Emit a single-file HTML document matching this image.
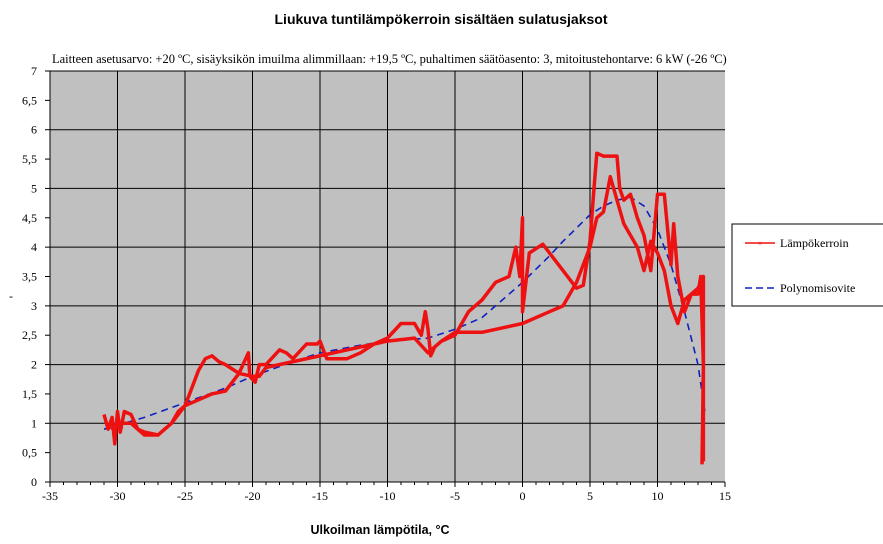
<!DOCTYPE html>
<html><head><meta charset="utf-8"><style>
body{margin:0;background:#fff;}
svg{display:block;font-family:"Liberation Serif",serif;}
</style></head><body>
<svg id="chart" width="883" height="544" xmlns="http://www.w3.org/2000/svg">
<text x="441" y="24" text-anchor="middle" font-family="Liberation Sans,sans-serif" font-weight="bold" font-size="14">Liukuva tuntilämpökerroin sisältäen sulatusjaksot</text>
<text x="52" y="63" font-size="12.5">Laitteen asetusarvo: +20 ºC, sisäyksikön imuilma alimmillaan: +19,5 ºC, puhaltimen säätöasento: 3, mitoitustehontarve: 6 kW (-26 ºC)</text>
<rect x="50" y="71" width="675" height="411" fill="#c0c0c0"/>
<g id="grid"></g>
<g id="axes"></g>
<path id="poly" fill="none" stroke="#1020c0" stroke-width="1.6" stroke-dasharray="7,5"/>
<path id="red" fill="none" stroke="#ee1111" stroke-width="3.5" stroke-linejoin="round"/>
<text x="380" y="534" text-anchor="middle" font-family="Liberation Sans,sans-serif" font-weight="bold" font-size="12.5">Ulkoilman lämpötila, °C</text>
<text x="9" y="300" font-size="12">-</text>
<g>
<rect x="732" y="224" width="160" height="82" fill="#fff" stroke="#000" stroke-width="1"/>
<line x1="745" y1="243" x2="775" y2="243" stroke="#ee1111" stroke-width="1.5"/>
<text x="760" y="246" font-size="8" fill="#ee1111" text-anchor="middle">×</text>
<text x="780" y="247" font-size="12">Lämpökerroin</text>
<line x1="745" y1="288" x2="775" y2="288" stroke="#1020c0" stroke-width="1.6" stroke-dasharray="7,4"/>
<text x="780" y="292" font-size="12">Polynomisovite</text>
</g>
</svg>
<script>
const xTicks=[-35,-30,-25,-20,-15,-10,-5,0,5,10,15];
const yTicks=[0,0.5,1,1.5,2,2.5,3,3.5,4,4.5,5,5.5,6,6.5,7];
const redX=[-31,-30.7,-30.4,-30.2,-30,-29.8,-29.5,-29,-28.5,-28,-27,-26,-25,-24.5,-24,-23.5,-23,-22.5,-22,-21,-20.3,-20.2,-19.8,-19.5,-19,-18,-17.5,-17,-16,-15.2,-15,-14.5,-13,-12,-11,-10,-9,-8,-7.5,-7.2,-7,-6.8,-6.5,-6,-5,-4,-3,-2,-1,-0.5,-0.2,0,0,0.5,1.5,3,4,4.5,5,5.3,5.5,6,7,7.2,7.5,8,8.5,9,9.5,10,10.5,11,11.2,11.5,12,12.5,13,13.2,13.4,13.3];
const redY=[1.15,0.9,1.1,0.65,1.2,0.85,1.2,1.15,0.9,0.85,0.8,1.0,1.3,1.6,1.9,2.1,2.15,2.05,2.0,1.85,2.2,1.8,1.7,2.0,2.0,2.25,2.2,2.1,2.35,2.35,2.4,2.1,2.1,2.2,2.35,2.45,2.7,2.7,2.5,2.9,2.6,2.15,2.3,2.4,2.5,2.9,3.1,3.4,3.5,4.0,3.5,4.5,2.9,3.9,4.05,3.6,3.3,3.35,4.1,5.0,5.6,5.55,5.55,5.0,4.8,4.9,4.5,4.2,3.6,4.9,4.9,3.7,4.4,3.5,2.9,3.2,3.2,3.5,2.0,0.3];
const red2X=[-30.5,-30,-29,-28,-27,-26,-25.5,-25,-24,-23,-22,-21,-20,-19.5,-19,-10,-8,-7,-6,-5,-3,-1,0,2,3,4,5,5.5,6,6.5,7,7.5,8,8.5,9,9.5,10,10.5,11,11.5,12,12.5,13,13.4,13.4];
const red2Y=[0.9,1.0,1.0,0.8,0.8,1.0,1.2,1.3,1.4,1.5,1.55,1.85,1.8,1.8,1.95,2.4,2.45,2.2,2.4,2.55,2.55,2.65,2.7,2.9,3.0,3.4,4.0,4.5,4.6,5.2,4.8,4.4,4.2,4.0,3.6,4.1,3.9,3.6,3.0,2.7,3.1,3.2,3.3,3.5,0.35];
const polyX=[-31,-28,-25,-22,-20,-17,-15,-12,-10,-7,-5,-3,-2,0,2,3,5,6,7,8,9,10,11,12,13,13.5];
const polyY=[0.9,1.1,1.35,1.6,1.8,2.05,2.2,2.33,2.4,2.45,2.6,2.8,3.0,3.4,3.85,4.1,4.55,4.7,4.8,4.85,4.7,4.3,3.7,2.9,2.0,1.2];
const X0=50,X1=725,Y0=482,Y1=71;
const sx=v=>X0+(v+35)/50*(X1-X0);
const sy=v=>Y0-v/7*(Y0-Y1);
const NS="http://www.w3.org/2000/svg";
const grid=document.getElementById('grid'),axes=document.getElementById('axes');
function mk(tag,attrs,parent){const e=document.createElementNS(NS,tag);for(const k in attrs)e.setAttribute(k,attrs[k]);parent.appendChild(e);return e;}
yTicks.forEach(v=>{
 const y=sy(v);
 if(v>0&&v%1===0){const l=mk('line',{x1:X0,x2:X1,y1:y,y2:y,stroke:'#000','stroke-width':1},grid);
 
 }
 mk('line',{x1:X0-5,x2:X0,y1:y,y2:y,stroke:'#000'},axes);
 const t=mk('text',{x:X0-13,y:y+4,'text-anchor':'end','font-size':12},axes);
 t.textContent=String(v).replace('.',',');
 
 
});
xTicks.forEach(v=>{
 const x=sx(v);
 if(v>-35&&v<15){const l=mk('line',{x1:x,x2:x,y1:Y1,y2:Y0,stroke:'#000','stroke-width':1},grid);
 
 }
 mk('line',{x1:x,x2:x,y1:Y0,y2:Y0+5,stroke:'#000'},axes);
 const t=mk('text',{x:x,y:Y0+18,'text-anchor':'middle','font-size':12},axes);
 t.textContent=v;
 
 
});
for(let v=-35;v<=15;v+=1){mk('line',{x1:sx(v),x2:sx(v),y1:Y0,y2:Y0+3,stroke:'#000'},axes);}
mk('line',{x1:X0,x2:X1,y1:Y0,y2:Y0,stroke:'#000'},axes);
mk('line',{x1:X0,x2:X0,y1:Y1,y2:Y0,stroke:'#000'},axes);
const pth=(xs,ys)=>xs.map((x,i)=>(i?'L':'M')+sx(x).toFixed(1)+','+sy(ys[i]).toFixed(1)).join('');
document.getElementById('poly').setAttribute('d',pth(polyX,polyY));
document.getElementById('red').setAttribute('d',pth(redX,redY)+pth(red2X,red2Y));
</script>
</body></html>
